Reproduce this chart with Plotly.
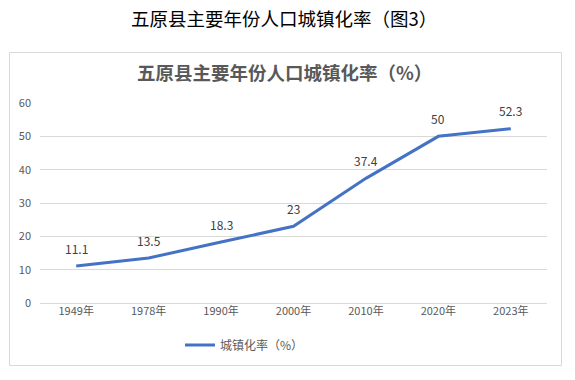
import plotly.graph_objects as go

years = ["1949年", "1978年", "1990年", "2000年", "2010年", "2020年", "2023年"]
rates = [11.1, 13.5, 18.3, 23, 37.4, 50, 52.3]
series_name = "城镇化率（%）"
page_title = "五原县主要年份人口城镇化率（图3）"
chart_title = "五原县主要年份人口城镇化率（%）"

W, H = 575, 380
L, R, T, B = 40, 28, 103, 77
pw = W - L - R
ph = H - T - B

def px_x(p):
    return (p - L) / pw

def px_y(p):
    return (H - B - p) / ph

fig = go.Figure()
fig.add_trace(go.Scatter(
    x=years, y=rates, mode="lines", name=series_name,
    line=dict(color="#4472C4", width=3),
))

for xv, yv in zip(years, rates):
    fig.add_annotation(x=xv, y=yv, text=f"{yv:g}", showarrow=False, yshift=18,
                       font=dict(size=12, color="#404040", family="Noto Sans CJK SC"))

fig.add_annotation(xref="paper", yref="paper", x=px_x(284), y=px_y(18), text=page_title,
                   showarrow=False, xanchor="center", yanchor="middle",
                   font=dict(size=18.5, color="#000000", family="Noto Sans CJK SC", weight=400))
fig.add_annotation(xref="paper", yref="paper", x=px_x(284), y=px_y(72), text=chart_title,
                   showarrow=False, xanchor="center", yanchor="middle",
                   font=dict(size=18.5, color="#595959", family="Noto Sans CJK SC", weight="bold"))

fig.add_shape(type="rect", xref="paper", yref="paper",
              x0=px_x(9.5), x1=px_x(561.5), y0=px_y(365.5), y1=px_y(52.5),
              line=dict(color="#d9d9d9", width=1), layer="below")

fig.update_layout(
    width=W, height=H,
    margin=dict(l=L, r=R, t=T, b=B, pad=0),
    paper_bgcolor="white", plot_bgcolor="white",
    font=dict(family="Noto Sans CJK SC", size=11, color="#595959"),
    showlegend=True,
    legend=dict(orientation="h", x=px_x(180), y=px_y(345), xanchor="left", yanchor="middle",
                font=dict(size=12, color="#595959"), bgcolor="rgba(0,0,0,0)"),
    xaxis=dict(type="category", range=[-0.5, len(years) - 0.5], showgrid=False,
               showline=False, ticks="", tickfont=dict(size=11, color="#595959")),
    yaxis=dict(range=[0, 60], dtick=10, showgrid=True, gridcolor="#d9d9d9", gridwidth=1,
               zeroline=True, zerolinecolor="#d9d9d9", zerolinewidth=1, showline=False,
               ticks="", ticklabelstandoff=8, tickfont=dict(size=11, color="#595959")),
)

fig.write_html("out.html", config={"displayModeBar": False},
               post_script="document.body.style.margin='0';")
